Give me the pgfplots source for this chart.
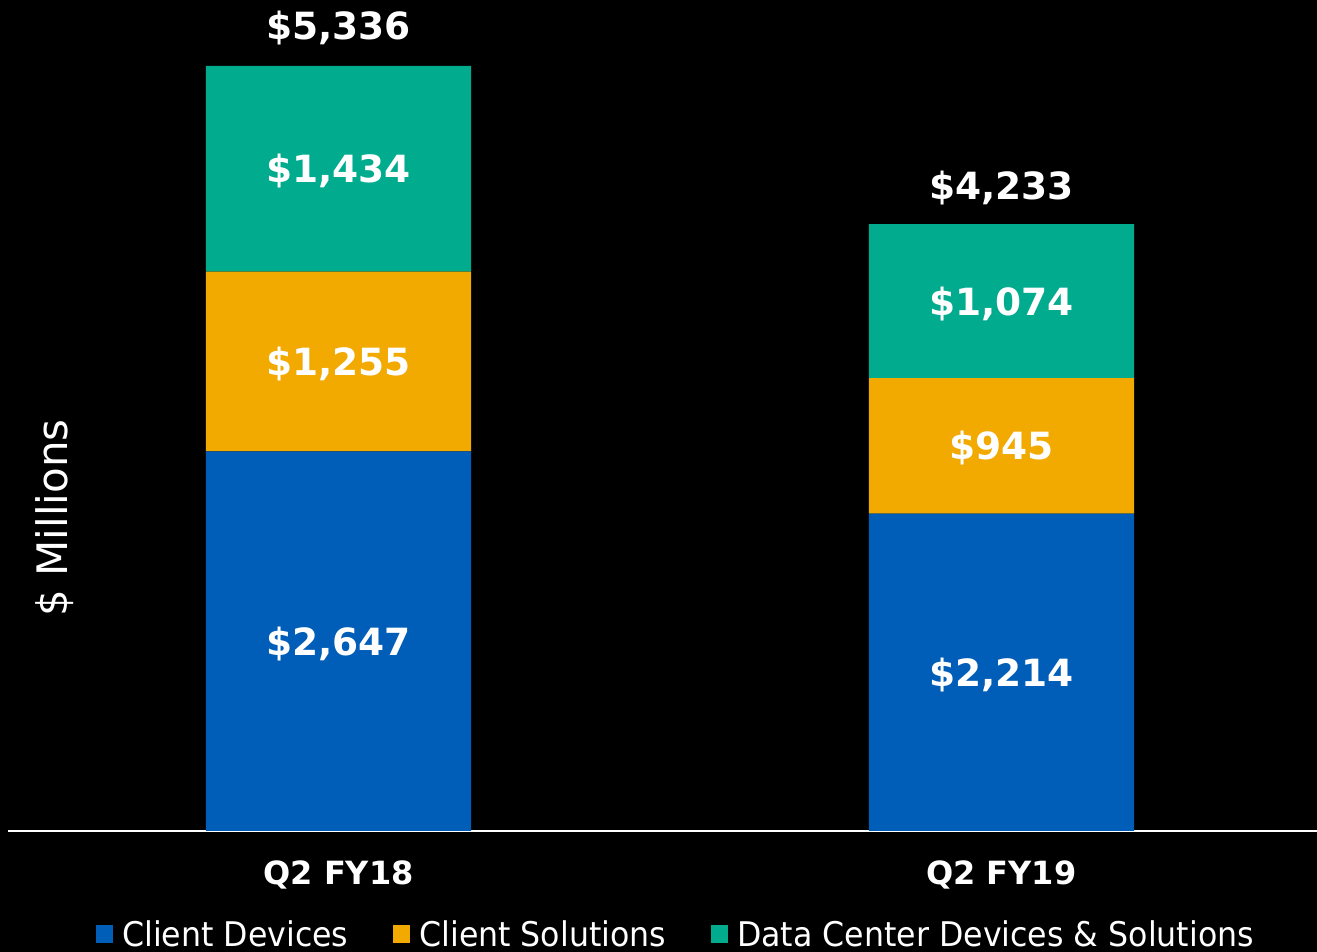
\documentclass[border=0pt]{standalone}
\usepackage{pgfplots}
\pgfplotsset{compat=1.18}
\usepackage{fontspec}
\setmainfont{DejaVu Sans}
\newfontfamily\legfont[FakeStretch=0.93]{DejaVu Sans}
\definecolor{cblue}{HTML}{005EB8}
\definecolor{corange}{HTML}{F2A900}
\definecolor{cgreen}{HTML}{00AB8E}
\tikzset{lbl/.style={text=white, font=\fontsize{37.5}{44}\selectfont\bfseries, anchor=center, yshift=-2.5pt}}
\begin{document}
\begin{tikzpicture}
\fill[black] (-8pt,-121pt) rectangle (1309pt,831pt);
\begin{axis}[
  at={(0pt,0pt)}, anchor=south west,
  scale only axis, width=1309pt, height=831pt,
  ybar stacked, bar width=0.4,
  xmin=-0.4985, xmax=1.476, ymin=0, ymax=5796,
  axis x line=bottom, axis y line=left,
  x axis line style={-, white, line width=2pt},
  y axis line style={draw=none},
  xtick={0,1}, xticklabels={Q2 FY18, Q2 FY19},
  major tick length=0pt,
  xticklabel style={anchor=center, yshift=-44pt, text=white, font=\fontsize{32}{38}\selectfont\bfseries},
  ytick=\empty,
  ylabel={\$ Millions},
  ylabel style={at={(axis description cs:0.0359,0.3767)}, anchor=center, text=white, font=\fontsize{42}{50}\selectfont},
  legend columns=3,
  legend style={at={(axis description cs:0.0649,-0.1240)}, anchor=west, draw=none, fill=none, text=white,
    font=\fontsize{34}{40}\selectfont\legfont, nodes={inner sep=0pt},
    /tikz/every odd column/.append style={column sep=9pt},
    /tikz/every even column/.append style={column sep=45pt}},
  legend image code/.code={\fill[#1] (0pt,-9pt) rectangle (17pt,9pt);},
]
\addplot[fill=cblue, draw=none] coordinates {(0,2647) (1,2214)};
\addplot[fill=corange, draw=none] coordinates {(0,1255) (1,945)};
\addplot[fill=cgreen, draw=none] coordinates {(0,1434) (1,1074)};
\legend{Client Devices, Client Solutions, Data Center Devices \& Solutions}
\coordinate (a1) at (axis cs:0,1323.5);
\coordinate (a2) at (axis cs:0,3274.5);
\coordinate (a3) at (axis cs:0,4619);
\coordinate (a4) at (axis cs:0,5615);
\coordinate (b1) at (axis cs:1,1107);
\coordinate (b2) at (axis cs:1,2686.5);
\coordinate (b3) at (axis cs:1,3696);
\coordinate (b4) at (axis cs:1,4505);
\end{axis}
\node[lbl] at (a1) {\$2,647};
\node[lbl] at (a2) {\$1,255};
\node[lbl] at (a3) {\$1,434};
\node[lbl] at (a4) {\$5,336};
\node[lbl] at (b1) {\$2,214};
\node[lbl] at (b2) {\$945};
\node[lbl] at (b3) {\$1,074};
\node[lbl] at (b4) {\$4,233};
\pgfresetboundingbox
\path[use as bounding box] (-8pt,-121pt) rectangle (1309pt,831pt);
\end{tikzpicture}
\end{document}
